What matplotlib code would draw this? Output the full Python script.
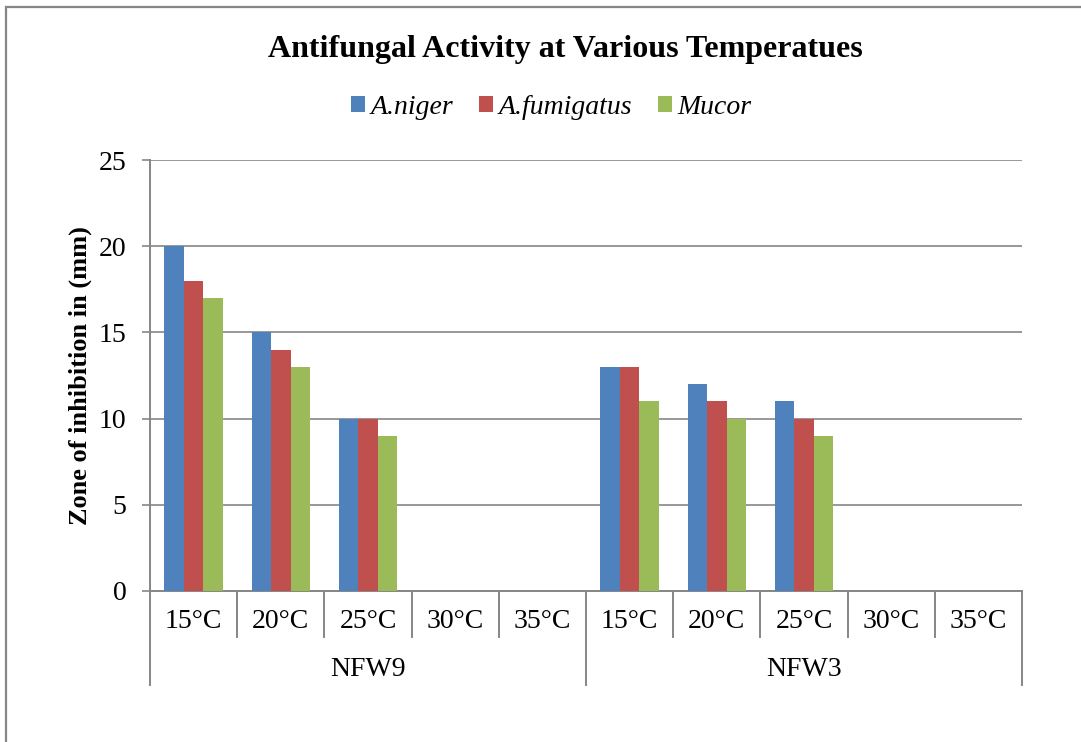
import numpy as np
import matplotlib.pyplot as plt
import matplotlib.transforms as mtransforms
from matplotlib.patches import Rectangle

#%% data
temps = ['15°C', '20°C', '25°C', '30°C', '35°C']
groups = ['NFW9', 'NFW3']
niger = [20, 15, 10, 0, 0, 13, 12, 11, 0, 0]
fumigatus = [18, 14, 10, 0, 0, 13, 11, 10, 0, 0]
mucor = [17, 13, 9, 0, 0, 11, 10, 9, 0, 0]
series_names = ['A.niger', 'A.fumigatus', 'Mucor']
colors = ['#4F81BD', '#C0504D', '#9BBB59']
yticks = [0, 5, 10, 15, 20, 25]

plt.rcParams['font.family'] = ['Liberation Serif', 'DejaVu Serif']
W, H = 1081, 742
grey = '#868686'

fig = plt.figure(figsize=(W/100, H/100), dpi=100)
# outer chart border (runs off right and bottom)
fig.patches.append(Rectangle((6/W, -0.05), 1.2, (H-7)/H + 0.05, transform=fig.transFigure,
                             fill=False, edgecolor=grey, linewidth=1.6))

ax = fig.add_axes([150/W, (H-591)/H, 872/W, 431/H])
n = len(niger)
x = np.arange(n)
bw = 0.224
for k, (vals, c, name) in enumerate(zip([niger, fumigatus, mucor], colors, series_names)):
    ax.bar(x + (k-1)*bw, vals, bw, color=c, label=name, zorder=3)

ax.set_xlim(-0.5, n-0.5)
ax.set_ylim(0, 25)
ax.set_yticks(yticks)
ax.yaxis.grid(True, color=grey, linewidth=1.2)
ax.set_axisbelow(True)
ax.tick_params(axis='y', length=6, width=1.2, color=grey, pad=11, labelsize=20)
ax.set_xticks([])
for s in ['top', 'right']:
    ax.spines[s].set_visible(False)
for s in ['left', 'bottom']:
    ax.spines[s].set_color(grey)
    ax.spines[s].set_linewidth(1.4)

# two-level category axis
trans = mtransforms.blended_transform_factory(ax.transData, ax.transAxes)
h_ax = 431.0
for i in range(n + 1):
    xs = i - 0.5
    big = (i % 5 == 0)
    y_end = -94/h_ax if big else -46/h_ax
    ax.plot([xs, xs], [0, y_end], color=grey, linewidth=1.4, transform=trans, clip_on=False)
for i in range(n):
    ax.text(i, -30/h_ax, temps[i % 5], transform=trans, ha='center', va='center', fontsize=20)
for g, name in enumerate(groups):
    ax.text(g*5 + 2, -79/h_ax, name, transform=trans, ha='center', va='center', fontsize=20)

ax.set_ylabel('Zone of inhibition in (mm)', fontsize=19, fontweight='bold')
ax.yaxis.set_label_coords(-(150-92)/872, 0.5)

fig.text(565/W, 1-49/H, 'Antifungal Activity at Various Temperatues', ha='center', va='center',
         fontsize=23, fontweight='bold')
fig.legend(loc='center', bbox_to_anchor=(551/W, 1-107/H), ncol=3, frameon=False,
           prop={'style': 'italic', 'size': 20}, handlelength=0.5, handleheight=0.5,
           handletextpad=0.2, columnspacing=0.93)

plt.savefig('out.png', dpi=100)
